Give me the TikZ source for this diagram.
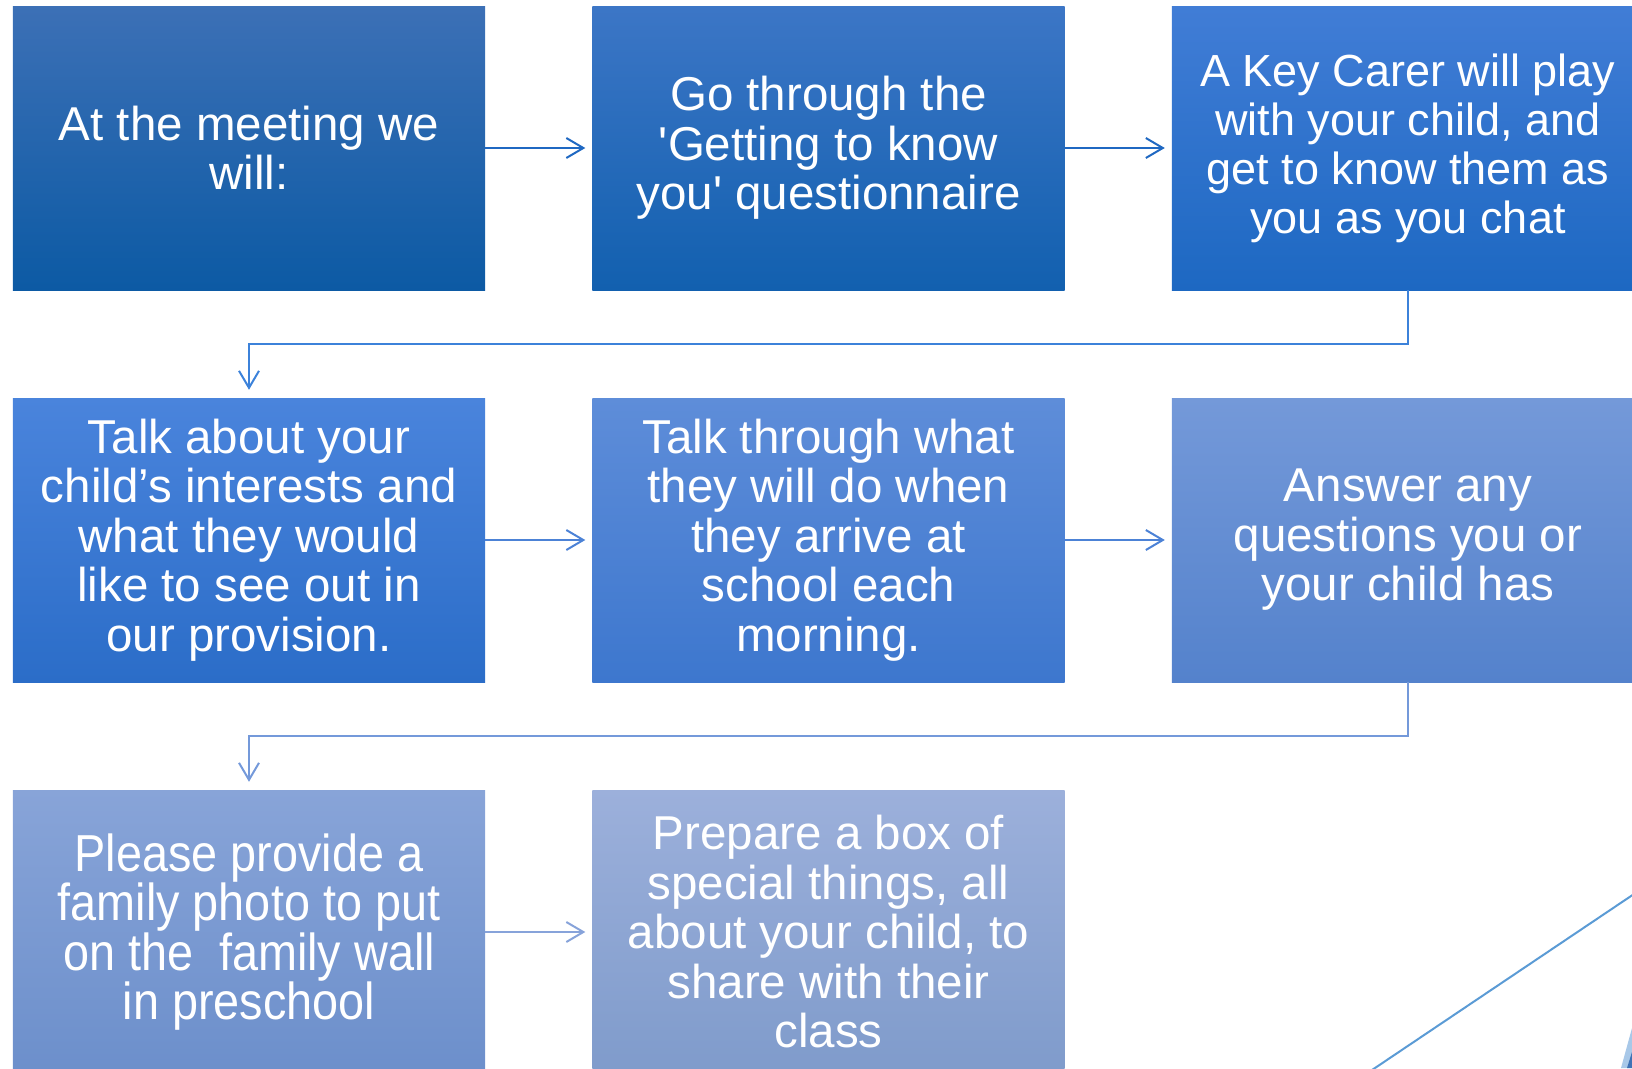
\documentclass[tikz,border=0pt]{standalone}
\usepackage{fontspec}
\setmainfont{Liberation Sans}
\newfontfamily\narrowsans[FakeStretch=0.9]{Liberation Sans}
\usetikzlibrary{arrows.meta}

\definecolor{meettop}{HTML}{3C70B6}   \definecolor{meetbot}{HTML}{0C5AA4}
\definecolor{questtop}{HTML}{3C76C6}  \definecolor{questbot}{HTML}{1260AF}
\definecolor{carertop}{HTML}{417DD6}  \definecolor{carerbot}{HTML}{1D68C2}
\definecolor{talktop}{HTML}{4A84DC}   \definecolor{talkbot}{HTML}{2B6DC8}
\definecolor{arrivetop}{HTML}{5E8DD9} \definecolor{arrivebot}{HTML}{3D77CE}
\definecolor{answertop}{HTML}{7499D9} \definecolor{answerbot}{HTML}{5482CC}
\definecolor{phototop}{HTML}{88A4D8}  \definecolor{photobot}{HTML}{6C8FCB}
\definecolor{thingstop}{HTML}{9CB0DB} \definecolor{thingsbot}{HTML}{7F9BCB}
\definecolor{flowa}{HTML}{1F68C2}
\definecolor{elbowa}{HTML}{3C82DA}
\definecolor{flowb}{HTML}{4C82D6}
\definecolor{elbowb}{HTML}{7499DA}
\definecolor{flowc}{HTML}{87A3DA}
\definecolor{diagblue}{HTML}{5B9BD5}
\definecolor{sliverlight}{HTML}{A8C8E8}
\definecolor{sliverdark}{HTML}{3F72B5}

\begin{document}
\begin{tikzpicture}[x=1pt, y=-1pt,
    stepbox/.style={rectangle, minimum width=472pt, minimum height=284pt,
      inner sep=0pt, text=white, align=center,
      font=\fontsize{47.5}{49.5}\selectfont},
    flow/.style={-{Straight Barb[length=17pt,width=20pt]}, line width=2pt,
      shorten >=7pt}]
  \useasboundingbox (0,0) rectangle (1632,1068);
  \clip (0,0) rectangle (1632,1068);
      \matrix[column sep={579.5pt,between origins}, row sep={392pt,between origins}] at (828.5,540)
      {
        \node[stepbox, top color=meettop, bottom color=meetbot](meet) {At the meeting we\\will:}; &
        \node[stepbox, top color=questtop, bottom color=questbot](quest) {Go through the\\\textquotesingle Getting to know\\you\textquotesingle{} questionnaire}; &
        \node[stepbox, top color=carertop, bottom color=carerbot, font=\fontsize{45}{49}\selectfont](carer) {A Key Carer will play\\with your child, and\\get to know them as\\you as you chat}; \\
        \node[stepbox, top color=talktop, bottom color=talkbot](talk) {Talk about your\\child’s interests and\\what they would\\like to see out in\\our provision.}; &
        \node[stepbox, top color=arrivetop, bottom color=arrivebot](arrive) {Talk through what\\they will do when\\they arrive at\\school each\\morning.}; &
        \node[stepbox, top color=answertop, bottom color=answerbot](answer) {Answer any\\questions you or\\your child has}; \\
        \node[stepbox, top color=phototop, bottom color=photobot, font={\narrowsans\fontsize{52}{49.5}\selectfont}](photo) {Please provide a\\family photo to put\\on the \ family wall\\in preschool}; &
        \node[stepbox, top color=thingstop, bottom color=thingsbot](things) {Prepare a box of\\special things, all\\about your child, to\\share with their\\class}; \\
      };
      \draw[flow, draw=flowa] (meet) -- (quest);
      \draw[flow, draw=flowa] (quest) -- (carer);
      \draw[flow, draw=elbowa, shorten >=8pt] (carer.south) -- ++(0,54) -| (talk.north);
      \draw[flow, draw=flowb] (talk) -- (arrive);
      \draw[flow, draw=flowb] (arrive) -- (answer);
      \draw[flow, draw=elbowb, shorten >=8pt] (answer.south) -- ++(0,54) -| (photo.north);
      \draw[flow, draw=flowc] (photo) -- (things);
      % corner of the slide background
      \draw[diagblue, line width=2pt] (1372,1070) -- (1634,894);
      \fill[sliverlight] (1621,1068) -- (1632,1028) -- (1632,1068) -- cycle;
      \fill[sliverdark] (1627,1068) -- (1632,1052) -- (1632,1068) -- cycle;
    \end{tikzpicture}
\end{document}
